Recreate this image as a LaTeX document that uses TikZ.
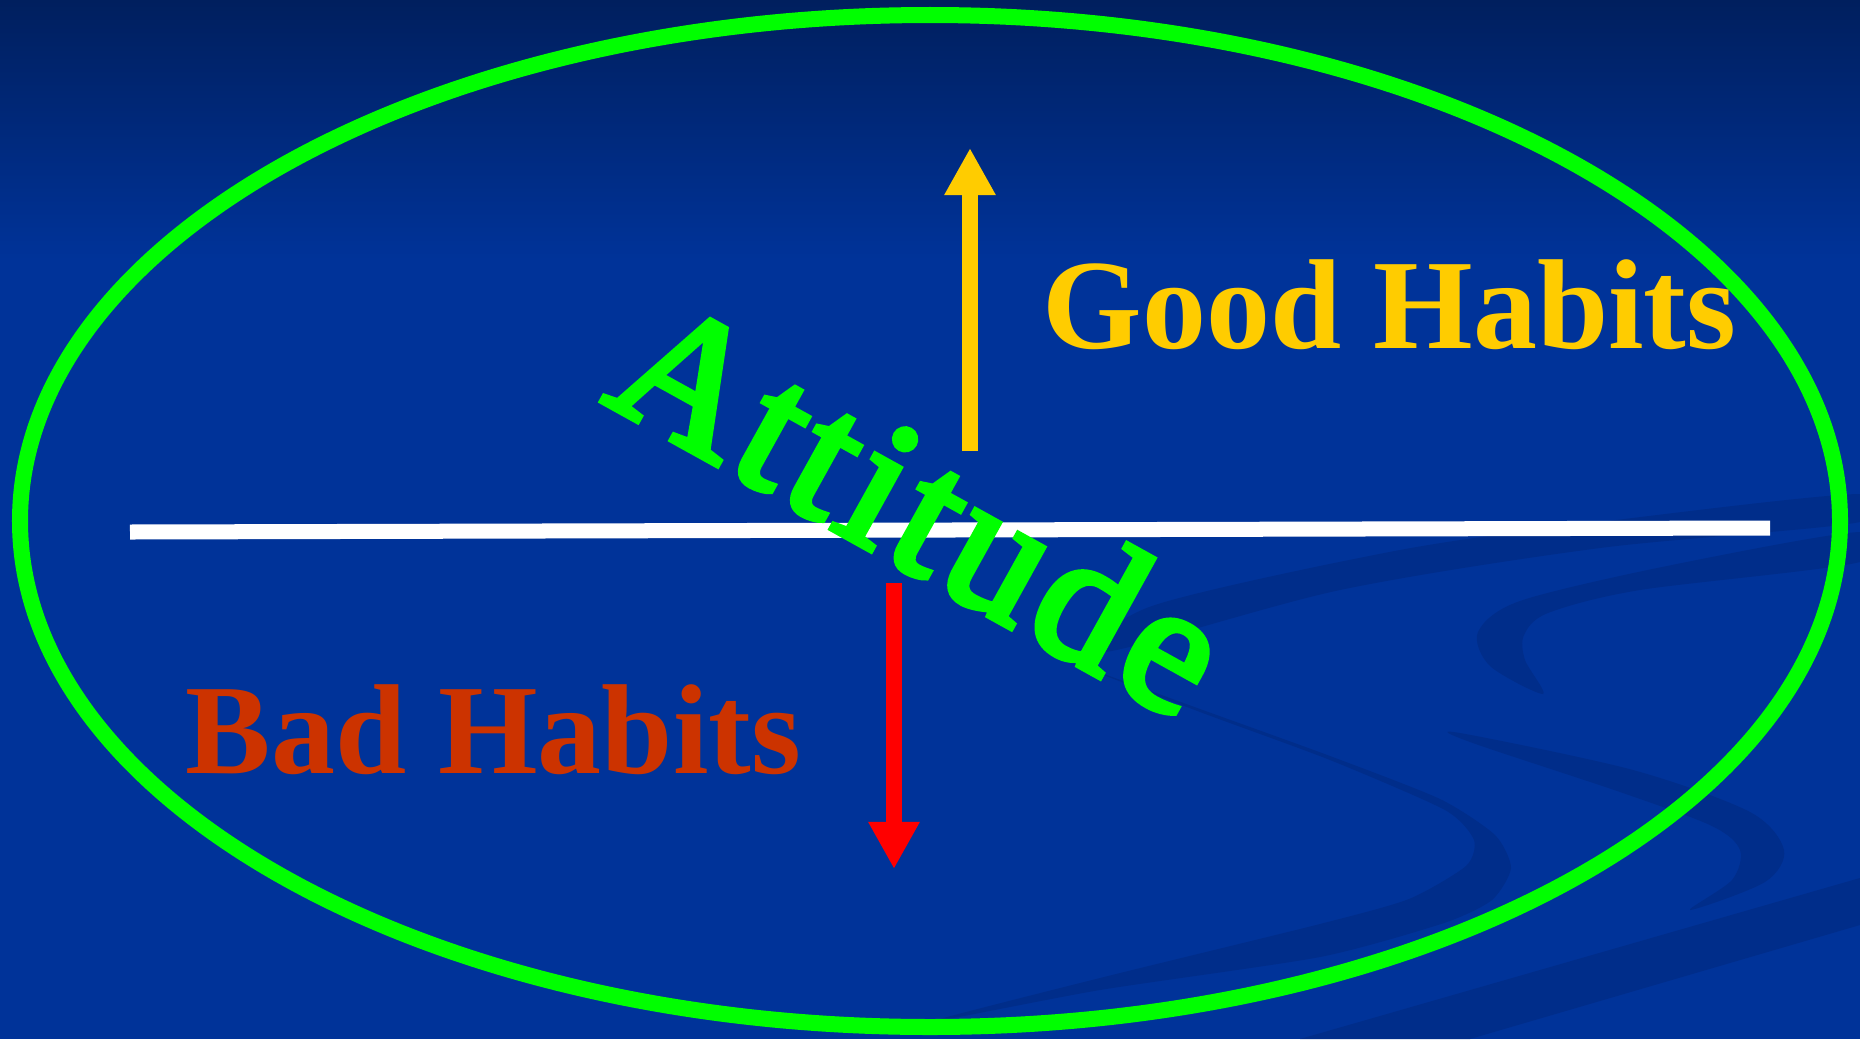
\documentclass[tikz,border=0pt]{standalone}
\usepackage{fontspec}
\setmainfont{Liberation Serif}
\newfontfamily\attitudefont{Liberation Serif}[FakeBold=3.5, LetterSpace=4]
\usetikzlibrary{arrows.meta}
\definecolor{slideblue}{RGB}{0,51,153}
\definecolor{slidetop}{RGB}{0,31,94}
\definecolor{swooshblue}{RGB}{0,45,138}
\definecolor{ringgreen}{RGB}{0,255,0}
\definecolor{goodyellow}{RGB}{255,204,0}
\definecolor{badred}{RGB}{204,51,0}
\definecolor{arrowred}{RGB}{255,0,0}
\begin{document}
\begin{tikzpicture}[x=0.01cm, y=-0.01cm,
  swoosh/.style={fill=swooshblue},
  habit/.style={anchor=base west, inner sep=0pt, font=\bfseries\fontsize{36.4}{40}\selectfont},
  bigarrow/.style={line width=0.16cm, -{Triangle[length=0.47cm, width=0.48cm]}}]
\useasboundingbox (0,0) rectangle (1860,1039);
\fill[slideblue] (0,0) rectangle (1860,1039);
\shade[top color=slidetop, bottom color=slideblue] (0,0) rectangle (1860,260);
\fill[swoosh] plot[smooth cycle, tension=0.5] coordinates {(1105,652) (1340,590) (1600,548) (1860,522) (1860,494) (1600,522) (1400,550) (1152,606)};
\fill[swoosh] plot[smooth cycle, tension=0.5] coordinates {(1860,532) (1667,566) (1520,601) (1478,632) (1490,666) (1543,694) (1525,660) (1524,635) (1548,613) (1640,590) (1860,562)};
\fill[swoosh] plot[smooth cycle, tension=0.4] coordinates {(1065,660) (1200,709) (1330,756) (1440,799) (1495,835) (1511,868) (1492,900) (1444,923) (1320,957) (1100,990) (930,1022) (1100,978) (1320,924) (1409,899) (1466,866) (1474,840) (1445,810) (1330,760) (1200,712)};
\fill[swoosh] plot[smooth cycle, tension=0.5] coordinates {(1460,733) (1633,770) (1750,812) (1784,850) (1765,882) (1690,910) (1732,880) (1740,850) (1712,826) (1620,792) (1470,742)};
\fill[swoosh] (1300,1039) -- (1860,878) -- (1860,925) -- (1470,1039) -- cycle;
\draw[ringgreen, line width=0.16cm] (930,521) ellipse [x radius=910, y radius=506];
\coordinate (line-west) at (130,532);
\coordinate (line-east) at (1770,528);
\draw[white, line width=0.15cm] (line-west) -- (line-east);
\coordinate (good-base) at (970,451);
\coordinate (good-tip) at (970,148);
\coordinate (bad-base) at (894,583);
\coordinate (bad-tip) at (894,869);
\draw[bigarrow, goodyellow] (good-base) -- (good-tip);
\draw[bigarrow, arrowred] (bad-base) -- (bad-tip);
\node[habit, text=goodyellow] (good) at (1042,348) {Good Habits};
\node[habit, text=badred] (bad) at (185,773) {Bad Habits};
\node[anchor=base west, inner sep=0pt, rotate=-29, text=ringgreen, font=\attitudefont\fontsize{53}{58}\selectfont] (attitude) at (600,400) {Attitude};
\end{tikzpicture}
\end{document}
